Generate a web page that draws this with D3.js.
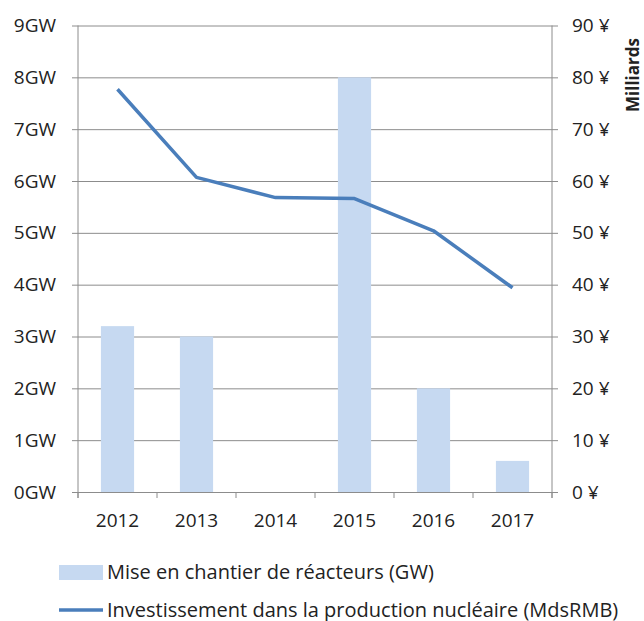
<!DOCTYPE html>
<html>
<head>
<meta charset="utf-8">
<script src="https://cdn.jsdelivr.net/npm/d3@7"></script>
<style>
body { margin: 0; background: #fff; }
text { font-family: "Open Sans", sans-serif; fill: #222; }
</style>
</head>
<body>
<script>
var years = ["2012", "2013", "2014", "2015", "2016", "2017"];
var reacteurs = [3.2, 3.0, 0, 8.0, 2.0, 0.6];          // GW
var investissement = [77.7, 60.7, 56.8, 56.6, 50.4, 39.4]; // milliards ¥
var gwTicks = [0, 1, 2, 3, 4, 5, 6, 7, 8, 9];
var yenTicks = [0, 10, 20, 30, 40, 50, 60, 70, 80, 90];
var legendLabels = ["Mise en chantier de réacteurs (GW)",
	"Investissement dans la production nucléaire (MdsRMB)"];

var width = 644, height = 621;
var plotLeft = 78, plotRight = 552, plotTop = 25.5, plotBottom = 492;
var gridColor = "#8c8c8c";

var svg = d3.select("body")
	.append("svg")
		.attr("width", width)
		.attr("height", height);

var x = d3.scaleBand()
		.domain(years)
		.range([plotLeft, plotRight])
		.paddingInner(0.58)
		.paddingOuter(0.29);

var yL = d3.scaleLinear().domain([0, 9]).range([plotBottom, plotTop]);
var yR = d3.scaleLinear().domain([0, 90]).range([plotBottom, plotTop]);

// horizontal gridlines
svg.append("g")
		.attr("transform", "translate(" + plotLeft + ",0)")
		.call(d3.axisLeft(yL).tickValues(gwTicks).tickSize(-(plotRight - plotLeft)).tickFormat(""))
	.call(function(g) { g.select(".domain").remove(); })
	.selectAll("line")
		.attr("stroke", gridColor);

// bars
svg.append("g")
	.selectAll("rect")
		.data(reacteurs)
	.enter()
	.append("rect")
		.attr("x", function(d, i) { return x(years[i]); })
		.attr("y", function(d) { return yL(d); })
		.attr("width", x.bandwidth())
		.attr("height", function(d) { return plotBottom - yL(d); })
		.attr("fill", "#c6d9f1");

// left axis
var gl = svg.append("g")
		.attr("transform", "translate(" + plotLeft + ",0)")
		.call(d3.axisLeft(yL).tickValues(gwTicks).tickSize(6).tickPadding(16)
			.tickFormat(function(d) { return d + "GW"; }));
gl.select(".domain").attr("stroke", gridColor).attr("d", "M0," + plotTop + "V" + (plotBottom + 6));
gl.selectAll("line").attr("stroke", gridColor);
gl.selectAll("text").style("font-size", "19px").attr("fill", "#222");

// right axis
var gr = svg.append("g")
		.attr("transform", "translate(" + plotRight + ",0)")
		.call(d3.axisRight(yR).tickValues(yenTicks).tickSize(6).tickPadding(14)
			.tickFormat(function(d) { return d + " ¥"; }));
gr.select(".domain").attr("stroke", gridColor).attr("d", "M0," + plotTop + "V" + (plotBottom + 6));
gr.selectAll("line").attr("stroke", gridColor);
gr.selectAll("text").style("font-size", "19px").attr("fill", "#222");

svg.append("text")
		.attr("transform", "translate(639,75) rotate(-90)")
		.attr("text-anchor", "middle")
		.style("font-size", "17px")
		.style("font-weight", "bold")
		.text("Milliards");

// bottom axis
var gb = svg.append("g")
		.attr("transform", "translate(0," + plotBottom + ")")
		.call(d3.axisBottom(x).tickSize(0).tickPadding(22));
gb.select(".domain").attr("stroke", gridColor);
gb.selectAll("text").style("font-size", "19px").attr("fill", "#222");

var step = x.step();
gb.selectAll("line.sep")
		.data(d3.range(years.length + 1))
	.enter()
	.append("line")
		.attr("class", "sep")
		.attr("x1", function(i) { return plotLeft + i * step; })
		.attr("x2", function(i) { return plotLeft + i * step; })
		.attr("y1", 0)
		.attr("y2", 6)
		.attr("stroke", gridColor);

// line series
var line = d3.line()
		.x(function(d, i) { return x(years[i]) + x.bandwidth() / 2; })
		.y(function(d) { return yR(d); });

svg.append("path")
		.datum(investissement)
		.attr("d", line)
		.attr("fill", "none")
		.attr("stroke", "#4a7ebb")
		.attr("stroke-width", 3.5)
		.attr("stroke-linejoin", "round");

// legend
var legend = svg.append("g");
legend.append("rect")
		.attr("x", 59)
		.attr("y", 565)
		.attr("width", 44)
		.attr("height", 15)
		.attr("fill", "#c6d9f1");
legend.append("line")
		.attr("x1", 59)
		.attr("x2", 103)
		.attr("y1", 610)
		.attr("y2", 610)
		.attr("stroke", "#4a7ebb")
		.attr("stroke-width", 3.5);
legend.selectAll("text")
		.data(legendLabels)
	.enter()
	.append("text")
		.attr("x", 107)
		.attr("y", function(d, i) { return 572 + i * 38; })
		.attr("dy", "0.35em")
		.style("font-size", "20px")
		.text(function(d) { return d; });
</script>
</body>
</html>
